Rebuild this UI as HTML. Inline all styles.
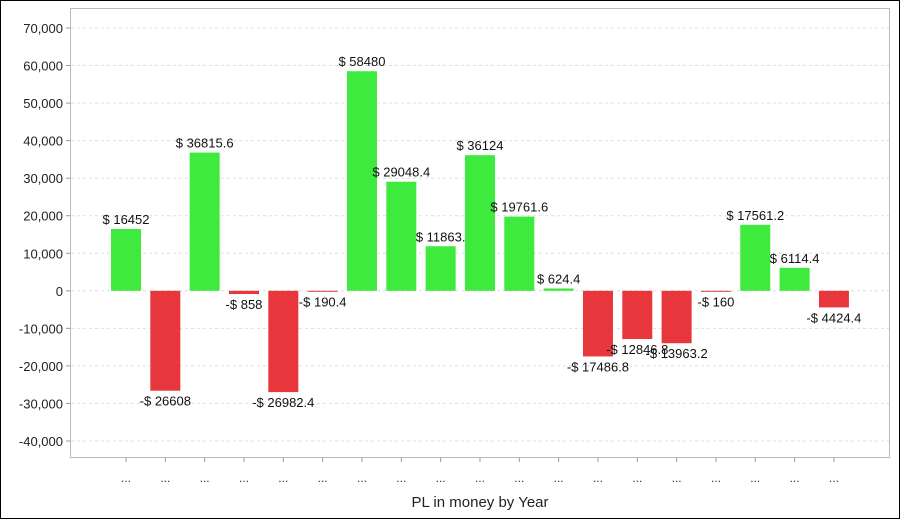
<!DOCTYPE html>
<html><head><meta charset="utf-8"><style>
body{margin:0;background:#fff;}
svg{display:block;font-family:"Liberation Sans",Arial,sans-serif;}
</style></head><body>
<svg id="c" width="900" height="519">
<rect x="0.5" y="0.5" width="899" height="518" fill="#fff" stroke="#000"/>
<rect x="70.5" y="8.5" width="819" height="449" fill="#fff" stroke="#bbb"/>
<g id="grid"></g><g id="bars"></g><g id="labels"></g><g id="yaxis"></g><g id="xaxis"></g>
<text x="480" y="507" font-size="15" text-anchor="middle" fill="#222">PL in money by Year</text>
</svg>
<script>
const categories = ["...","...","...","...","...","...","...","...","...","...","...","...","...","...","...","...","...","...","..."];
const values = [16452,-26608,36815.6,-858,-26982.4,-190.4,58480,29048.4,11863,36124,19761.6,624.4,-17486.8,-12846.8,-13963.2,-160,17561.2,6114.4,-4424.4];
const valueLabels = ["$ 16452","-$ 26608","$ 36815.6","-$ 858","-$ 26982.4","-$ 190.4","$ 58480","$ 29048.4","$ 11863.","$ 36124","$ 19761.6","$ 624.4","-$ 17486.8","-$ 12846.8","-$ 13963.2","-$ 160","$ 17561.2","$ 6114.4","-$ 4424.4"];
const yTicks = [70000,60000,50000,40000,30000,20000,10000,0,-10000,-20000,-30000,-40000];
const NS="http://www.w3.org/2000/svg";
function y(v){return 290.8 - v*(413/110000);}
function x(i){return 126 + i*39.33;}
function mk(t,a,p){const e=document.createElementNS(NS,t);for(const k in a)e.setAttribute(k,a[k]);p.appendChild(e);return e;}
const grid=document.getElementById('grid'),yax=document.getElementById('yaxis'),bars=document.getElementById('bars'),labs=document.getElementById('labels'),xax=document.getElementById('xaxis');
yTicks.forEach(v=>{
  const l=mk('line',{x1:71,x2:889,y1:y(v),y2:y(v),stroke:'#ddd','stroke-dasharray':'3,3'},grid);
  
  
  const tk=mk('line',{x1:66,x2:70,y1:y(v),y2:y(v),stroke:'#999'},yax);
  
  
  const t=mk('text',{x:63,y:y(v)+5,'font-size':13,'text-anchor':'end',fill:'#222'},yax);
  t.textContent=v.toLocaleString('en-US');
  
  
});
values.forEach((v,i)=>{
  const cx=x(i),top=Math.min(y(v),y(0)),h=Math.max(Math.abs(y(v)-y(0)),1);
  const r=mk('rect',{x:cx-15,y:top,width:30,height:h,fill:v>=0?'#3dea3d':'#e8373c'},bars);
  
  
  const t=mk('text',{x:cx,y:v>=0?y(v)-5:y(v)+15,'font-size':13,'text-anchor':'middle',fill:'#111'},labs);
  t.textContent=valueLabels[i];
  
  
  const tk=mk('line',{x1:cx,x2:cx,y1:458,y2:462,stroke:'#999'},xax);
  
  
  const c=mk('text',{x:cx,y:482,'font-size':12,'text-anchor':'middle',fill:'#333'},xax);
  c.textContent=categories[i];
  
  
});
</script>
</body></html>
